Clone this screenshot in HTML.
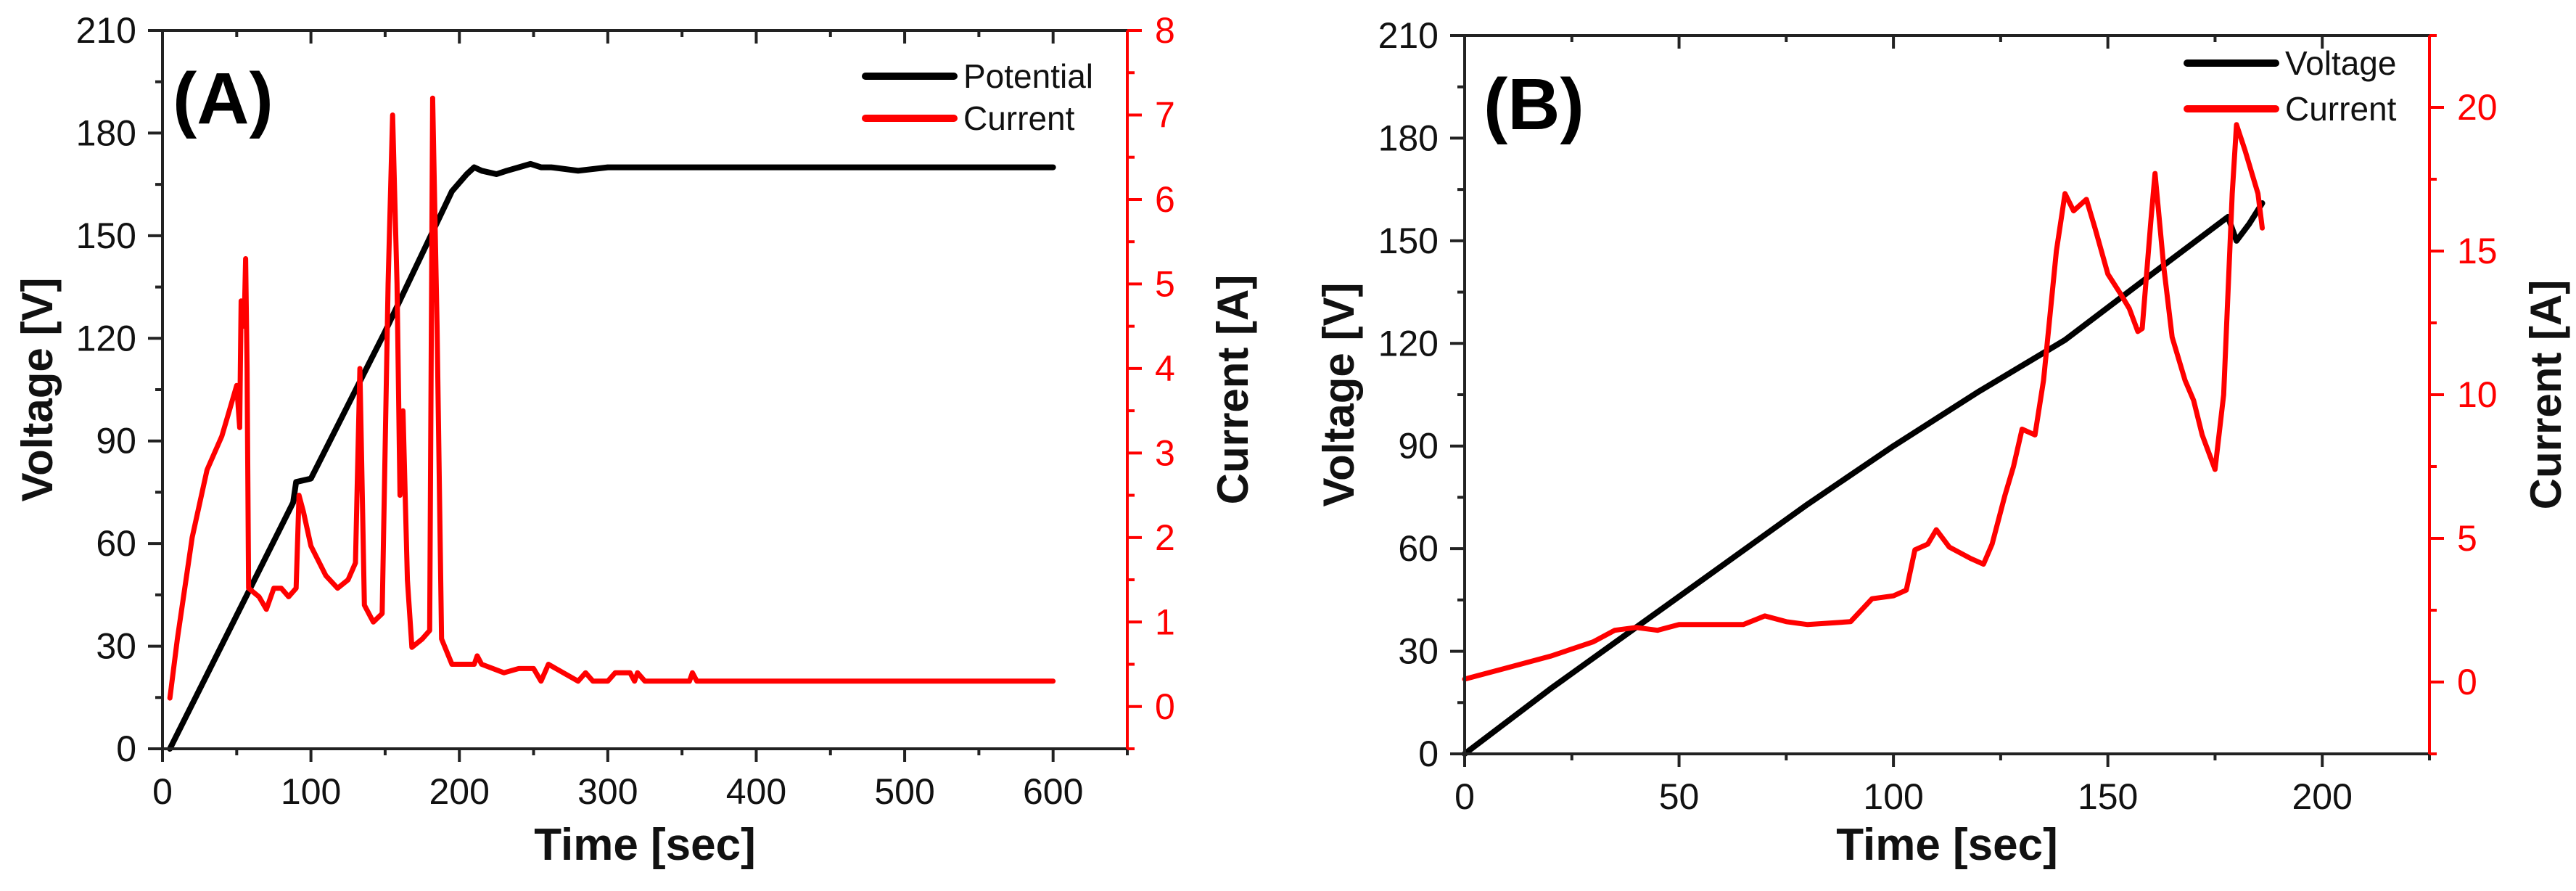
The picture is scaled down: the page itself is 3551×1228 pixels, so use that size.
<!DOCTYPE html>
<html><head><meta charset="utf-8"><style>
html,body{margin:0;padding:0;background:#fff}
svg{display:block}
text{font-family:"Liberation Sans",Arial,sans-serif}
</style></head><body>
<svg id="chart" width="3551" height="1228" viewBox="0 0 3551 1228" xmlns="http://www.w3.org/2000/svg">
<rect width="3551" height="1228" fill="#fff"/>
<g id="panelA"></g>
<g id="panelB"></g>
</svg>
<script>
// Panel A data
const aVoltT=[5,50,88,90,100,150,195,205,210,215,225,232,240,248,255,262,280,300,320,400,600];
const aVoltV=[0,39,72,78,79,122,163,168,170,169,168,169,170,171,170,170,169,170,170,170,170];
const aCurT=[5,10,20,30,40,45,50,52,53,55,56,57,58,65,70,75,80,85,90,92,95,100,110,118,125,130,133,136,142,148,152,155,158,160,162,165,168,175,180,182,185,188,195,210,212,215,230,240,250,255,260,265,280,285,290,300,305,315,318,320,325,355,357,360,600];
const aCurI=[0.1,0.8,2,2.8,3.2,3.5,3.8,3.3,4.8,4.5,5.3,4,1.4,1.3,1.15,1.4,1.4,1.3,1.4,2.5,2.3,1.9,1.55,1.4,1.5,1.7,4.0,1.2,1.0,1.1,5,7,5,2.5,3.5,1.5,0.7,0.8,0.9,7.2,4.5,0.8,0.5,0.5,0.6,0.5,0.4,0.45,0.45,0.3,0.5,0.45,0.3,0.4,0.3,0.3,0.4,0.4,0.3,0.4,0.3,0.3,0.4,0.3,0.3];
const aXTicks=[0,100,200,300,400,500,600];
const aYTicks=[0,30,60,90,120,150,180,210];
const aY2Ticks=[0,1,2,3,4,5,6,7,8];
// Panel B data
const bVoltT=[0,20,40,60,80,100,120,140,160,178,180,183,186];
const bVoltV=[0,19,37,55,73,90,106,121,140,157,150,155,161];
const bCurT=[0,10,20,30,35,40,45,50,65,70,75,80,90,95,100,103,105,108,110,113,118,121,123,126,128,130,133,135,138,140,142,145,147,150,153,155,157,158,160,161,163,165,168,170,172,175,177,179,180,182,185,186];
const bCurI=[0.1,0.5,0.9,1.4,1.8,1.9,1.8,2.0,2.0,2.3,2.1,2.0,2.1,2.9,3.0,3.2,4.6,4.8,5.3,4.7,4.3,4.1,4.8,6.5,7.5,8.8,8.6,10.5,15,17.0,16.4,16.8,15.8,14.2,13.5,13,12.2,12.3,16,17.7,14.5,12,10.5,9.8,8.6,7.4,10,17,19.4,18.5,17,15.8];
const bXTicks=[0,50,100,150,200];
const bYTicks=[0,30,60,90,120,150,180,210];
const bY2Ticks=[0,5,10,15,20];

const NS="http://www.w3.org/2000/svg";
function mk(parent,tag,attrs,text){const e=document.createElementNS(NS,tag);for(const k in attrs)e.setAttribute(k,attrs[k]);if(text!==undefined)e.textContent=text;parent.appendChild(e);return e;}

function panel(g,cfg){
  const L=cfg.L,R=cfg.R,T=cfg.T,B=cfg.B;
  const sx=v=>L+(v-cfg.x0)/(cfg.x1-cfg.x0)*(R-L);
  const sy=v=>B-(v-cfg.y0)/(cfg.y1-cfg.y0)*(B-T);
  const sy2=v=>B-(v-cfg.z0)/(cfg.z1-cfg.z0)*(B-T);
  let d=cfg.vt.map((t,i)=>(i?'L':'M')+sx(t).toFixed(1)+' '+sy(cfg.vv[i]).toFixed(1)).join(' ');
  const vl=mk(g,'path',{d:d,fill:'none',stroke:'#000','stroke-width':8,'stroke-linejoin':'round','stroke-linecap':'round'});
  
  
  d=cfg.ct.map((t,i)=>(i?'L':'M')+sx(t).toFixed(1)+' '+sy2(cfg.ci[i]).toFixed(1)).join(' ');
  const cl=mk(g,'path',{d:d,fill:'none',stroke:'#ff0000','stroke-width':7,'stroke-linejoin':'round','stroke-linecap':'round'});
  
  
  const ax=mk(g,'g',{stroke:'#222','stroke-width':4,fill:'none'});
  
  
  mk(ax,'line',{x1:L,y1:T,x2:R,y2:T});
  mk(ax,'line',{x1:L,y1:B,x2:R,y2:B});
  mk(ax,'line',{x1:L,y1:T,x2:L,y2:B});
  mk(g,'line',{x1:R,y1:T,x2:R,y2:B,stroke:'#ff0000','stroke-width':4});
  const xt=cfg.xt, xstep=xt[1]-xt[0];
  for(let v=cfg.x0;v<=cfg.x1+1e-6;v+=xstep/2){
    const major=xt.includes(v);const x=sx(v);
    mk(ax,'line',{x1:x,y1:B,x2:x,y2:B+(major?18:9)});
    mk(ax,'line',{x1:x,y1:T,x2:x,y2:T+(major?18:9)});
  }
  xt.forEach(v=>{const t=mk(g,'text',{x:sx(v),y:B+76,'font-size':50,'text-anchor':'middle',fill:'#111'},String(v));
    
    });
  const yt=cfg.yt, ystep=yt[1]-yt[0];
  for(let v=cfg.y0;v<=cfg.y1+1e-6;v+=ystep/2){
    const major=yt.includes(v);const y=sy(v);
    mk(ax,'line',{x1:L,y1:y,x2:L-(major?20:10),y2:y});
  }
  yt.forEach(v=>{const t=mk(g,'text',{x:L-36,y:sy(v)+17,'font-size':50,'text-anchor':'end',fill:'#111'},String(v));
    
    });
  const zt=cfg.zt, zstep=zt[1]-zt[0];
  const rg=mk(g,'g',{stroke:'#ff0000','stroke-width':4});
  for(let v=cfg.z0;v<=cfg.z1+1e-6;v+=zstep/2){
    const major=zt.some(z=>Math.abs(z-v)<1e-6);const y=sy2(v);
    mk(rg,'line',{x1:R,y1:y,x2:R+(major?20:10),y2:y});
  }
  zt.forEach(v=>{const t=mk(g,'text',{x:R+38,y:sy2(v)+17,'font-size':50,fill:'#ff0000'},String(v));
    
    });
  let t=mk(g,'text',{x:(L+R)/2,y:1185,'font-size':62,'font-weight':'bold','text-anchor':'middle',fill:'#111'},'Time [sec]');
  
  
  t=mk(g,'text',{x:0,y:0,'font-size':60,'font-weight':'bold','text-anchor':'middle',fill:'#111',transform:`translate(${cfg.ylx},${(T+B)/2}) rotate(-90)`},'Voltage [V]');
  
  
  t=mk(g,'text',{x:0,y:0,'font-size':60,'font-weight':'bold','text-anchor':'middle',fill:'#111',transform:`translate(${cfg.y2lx},${(T+B)/2}) rotate(-90)`},'Current [A]');
  
  
  t=mk(g,'text',{x:cfg.tagX,y:cfg.tagY,'font-size':100,'font-weight':'bold',fill:'#000'},cfg.tag);
  
  
  const lg=mk(g,'g',{});
  
  
  mk(lg,'line',{x1:cfg.lgx,y1:cfg.lgy1,x2:cfg.lgx+122,y2:cfg.lgy1,stroke:'#000','stroke-width':10,'stroke-linecap':'round'});
  t=mk(lg,'text',{x:cfg.lgx+135,y:cfg.lgy1+16,'font-size':46,fill:'#111'},cfg.vname);
  
  
  mk(lg,'line',{x1:cfg.lgx,y1:cfg.lgy2,x2:cfg.lgx+122,y2:cfg.lgy2,stroke:'#ff0000','stroke-width':10,'stroke-linecap':'round'});
  t=mk(lg,'text',{x:cfg.lgx+135,y:cfg.lgy2+16,'font-size':46,fill:'#111'},'Current');
  
  
}
panel(document.getElementById('panelA'),{L:224,R:1554,T:42,B:1032,x0:0,x1:650,y0:0,y1:210,z0:-0.5,z1:8,
  vt:aVoltT,vv:aVoltV,ct:aCurT,ci:aCurI,xt:aXTicks,yt:aYTicks,zt:aY2Ticks,ylx:72,y2lx:1720,tag:'(A)',tagX:238,tagY:170,
  lgx:1193,lgy1:105,lgy2:163,vname:'Potential'});
panel(document.getElementById('panelB'),{L:2019,R:3349,T:49,B:1039,x0:0,x1:225,y0:0,y1:210,z0:-2.5,z1:22.5,
  vt:bVoltT,vv:bVoltV,ct:bCurT,ci:bCurI,xt:bXTicks,yt:bYTicks,zt:bY2Ticks,ylx:1866,y2lx:3530,tag:'(B)',tagX:2045,tagY:178,
  lgx:3015,lgy1:87,lgy2:150,vname:'Voltage'});
</script>
</body></html>
